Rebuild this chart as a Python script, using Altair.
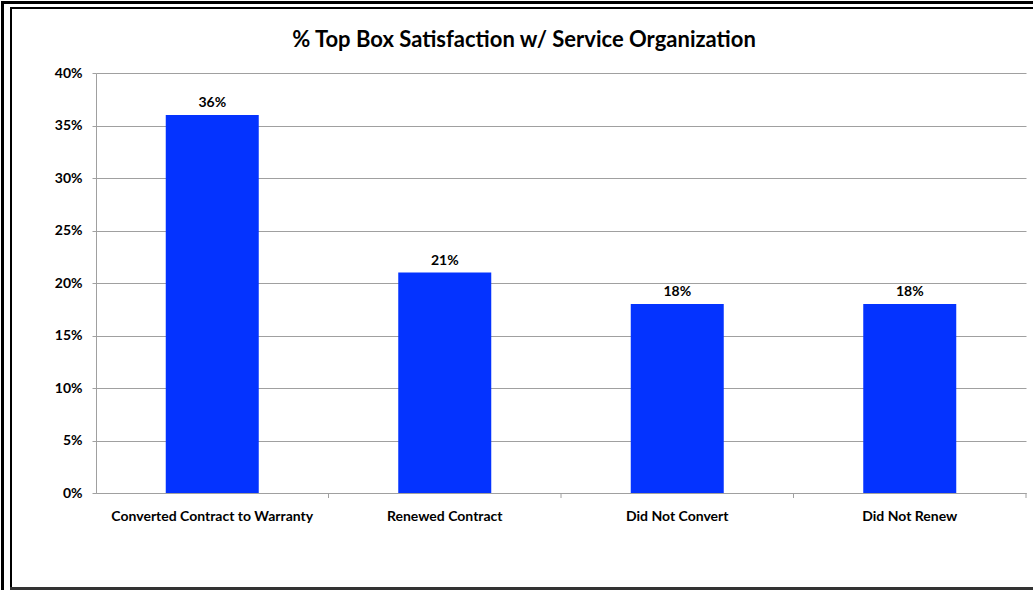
import altair as alt
import pandas as pd

categories = ["Converted Contract to Warranty", "Renewed Contract", "Did Not Convert", "Did Not Renew"]
values = [0.36, 0.21, 0.18, 0.18]
labels = ["36%", "21%", "18%", "18%"]
title_text = "% Top Box Satisfaction w/ Service Organization"

df = pd.DataFrame({"cat": categories, "val": values, "lab": labels})

FONT = "Lato"
W, H = 930, 420

xscale = alt.Scale(paddingInner=0.6, paddingOuter=0.3)
xenc = alt.X("cat:N", sort=categories, title=None, scale=xscale,
             axis=alt.Axis(labelAngle=0, ticks=False, labelPadding=16, labelFontSize=14,
                           labelFontWeight="bold", labelFont=FONT, labelColor="black",
                           labelLimit=400,
                           domainColor="#A0A0A0", domainWidth=1, grid=False))
yenc = alt.Y("val:Q", title=None,
             scale=alt.Scale(domain=[0, 0.4]),
             axis=alt.Axis(format=".0%", values=[0, .05, .1, .15, .2, .25, .3, .35, .4],
                           labelFontSize=14, labelFontWeight="bold", labelFont=FONT,
                           labelColor="black", labelPadding=10, tickSize=4,
                           tickColor="#A0A0A0", domainColor="#A0A0A0",
                           gridColor="#A0A0A0", gridWidth=1))

base = alt.Chart(df)
bars = base.mark_bar(color="#0433FF").encode(x=xenc, y=yenc)
text = base.mark_text(dy=-12, fontSize=14, fontWeight="bold", font=FONT, color="black").encode(
    x=alt.X("cat:N", sort=categories, scale=xscale), y="val:Q", text="lab:N")
main = alt.layer(bars, text)

xticks = base.mark_rule(color="#A0A0A0").encode(
    x=alt.X("cat:N", sort=categories, bandPosition=1, axis=None,
            scale=alt.Scale(paddingInner=0, paddingOuter=0)),
    y=alt.value(H), y2=alt.value(H + 5))

frame_df = pd.DataFrame({"k": [0], "t": [title_text]})
fb = alt.Chart(frame_df)
title = fb.mark_text(fontSize=22, fontWeight="bold", font=FONT, color="black",
                     align="center", baseline="middle").encode(
    x=alt.value(428), y=alt.value(-33), text="t:N")
outer_left = fb.mark_rule(color="black", strokeWidth=3).encode(
    x=alt.value(-93.5), y=alt.value(-71), y2=alt.value(517))
inner_left = fb.mark_rule(color="black", strokeWidth=2).encode(
    x=alt.value(-85), y=alt.value(-65), y2=alt.value(514))
outer_top = fb.mark_rule(color="black", strokeWidth=3).encode(
    x=alt.value(-95), x2=alt.value(937), y=alt.value(-70.5))
inner_top = fb.mark_rule(color="black", strokeWidth=2).encode(
    x=alt.value(-86), x2=alt.value(937), y=alt.value(-65))
bottom = fb.mark_rule(color="#333333", strokeWidth=3).encode(
    x=alt.value(-86), x2=alt.value(937), y=alt.value(515.5))

chart = alt.layer(main, xticks, title, outer_left, inner_left, outer_top, inner_top, bottom).resolve_scale(
    x="independent"
).properties(
    width=W, height=H,
    padding={"left": 96, "top": 73, "right": 7, "bottom": 97},
    autosize=alt.AutoSizeParams(type="none"),
    background="white",
).configure_view(stroke=None).configure_axis(labelOverlap=False)

chart.save("out.html", embed_options={"renderer": "svg", "actions": False})
